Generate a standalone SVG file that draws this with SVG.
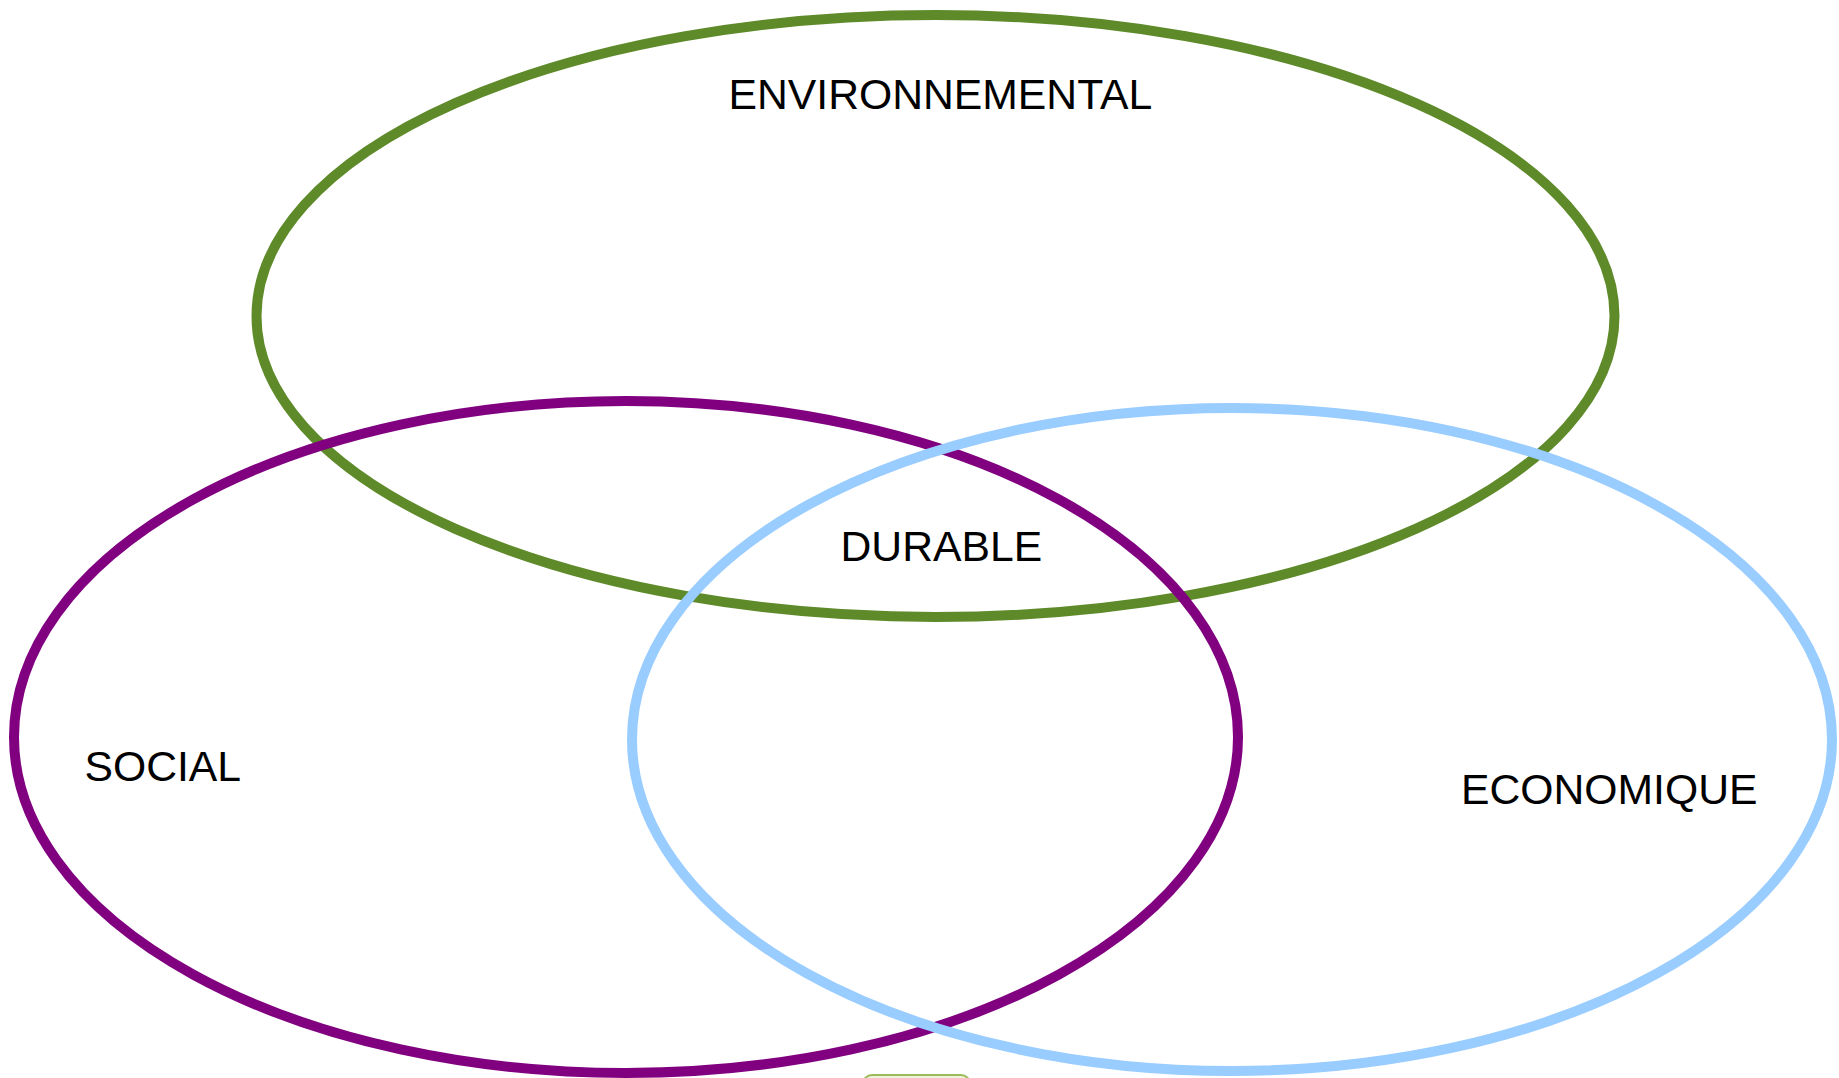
<svg xmlns="http://www.w3.org/2000/svg" width="1839" height="1078" viewBox="0 0 1839 1078">
<style>
.ring{fill:none;stroke-width:10}
.lbl{font-family:"Liberation Sans",Arial,sans-serif;font-size:42.7px;fill:#000}
</style>
<rect x="0" y="0" width="1839" height="1078" fill="#fff"/>
<g id="stub">
<rect x="863" y="1075" width="107" height="24" rx="9" fill="#eef4dc" stroke="#9bbb59" stroke-width="2"/>
</g>
<g id="environnemental">
<ellipse class="ring" cx="935.5" cy="316" rx="679" ry="301" stroke="#5e8a2a"/>
<text class="lbl" x="728.5" y="109">ENVIRONNEMENTAL</text>
</g>
<g id="social">
<ellipse class="ring" cx="626" cy="737" rx="612" ry="336" stroke="#800080"/>
<text class="lbl" x="84.5" y="781">SOCIAL</text>
</g>
<g id="economique">
<ellipse class="ring" cx="1232" cy="739.5" rx="600" ry="331.5" stroke="#99ccff"/>
<text class="lbl" x="1461" y="803.5">ECONOMIQUE</text>
</g>
<g id="durable">
<text class="lbl" x="840.5" y="561">DURABLE</text>
</g>
<g id="connectors"></g>
</svg>
